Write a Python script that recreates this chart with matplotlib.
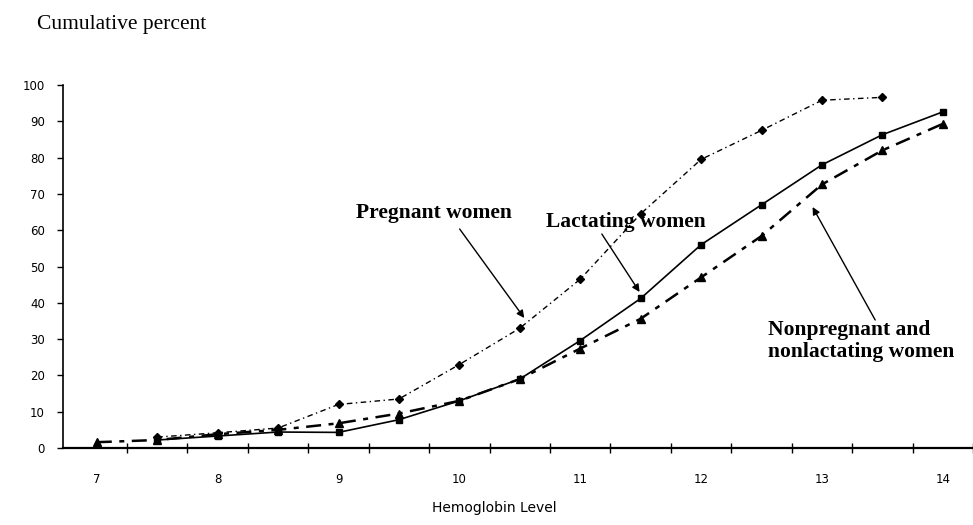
import matplotlib
matplotlib.use("Agg")
import matplotlib.pyplot as plt
import numpy as np

hb_levels = [7.0, 7.5, 8.0, 8.5, 9.0, 9.5, 10.0, 10.5, 11.0, 11.5, 12.0, 12.5, 13.0, 13.5, 14.0]
pregnant = [np.nan, 3.0, 4.2, 5.5, 12.0, 13.5, 23.0, 33.0, 46.5, 64.5, 79.5, 87.5, 95.8, 96.6, np.nan]
lactating = [np.nan, 2.2, 3.3, 4.4, 4.3, 7.8, 13.0, 19.0, 29.6, 41.2, 56.0, 67.0, 78.0, 86.3, 92.6]
nonpreg = [1.6, 2.2, 3.8, 5.0, 6.8, 9.5, 13.0, 19.0, 27.4, 35.6, 47.0, 58.4, 72.6, 82.0, 89.3]
x_tick_labels = ["7", "8", "9", "10", "11", "12", "13", "14"]
y_ticks = [0, 10, 20, 30, 40, 50, 60, 70, 80, 90, 100]

W, H = 973, 525
XS = 121.57          # px per hemoglobin unit
X0 = 7 - 34 / XS     # data value at the y-axis
X1 = 14 + 25 / XS    # data value at the right edge

fig = plt.figure(figsize=(W / 100, H / 100), dpi=100)
ax = fig.add_axes([63 / W, 77 / H, 910 / W, 363 / H])

ax.plot(hb_levels, pregnant, color="black", lw=1.0, linestyle=(0, (4, 2.5, 1, 2.5)),
        marker="D", markersize=4.5, label="Pregnant women")
ax.plot(hb_levels, lactating, color="black", lw=1.2, linestyle="-",
        marker="s", markersize=5, label="Lactating women")
ax.plot(hb_levels, nonpreg, color="black", lw=1.8, linestyle=(0, (6, 3, 2, 3)),
        marker="^", markersize=6, label="Nonpregnant and nonlactating women")

ax.set_xlim(X0, X1)
ax.set_ylim(0, 100)
for s in ["top", "right"]:
    ax.spines[s].set_visible(False)
ax.spines["left"].set_linewidth(1.2)
ax.spines["bottom"].set_linewidth(1.6)

ax.set_yticks(y_ticks)
ax.set_yticklabels([str(v) for v in y_ticks], fontsize=8.5, family="DejaVu Sans")
ax.tick_params(axis="y", direction="out", length=4, width=1, pad=9)

ax.set_xticks([float(v) for v in x_tick_labels])
ax.set_xticklabels(x_tick_labels, fontsize=8.5, family="DejaVu Sans")
ax.set_xticks(np.arange(7.25, 14.3, 0.5), minor=True)
ax.tick_params(axis="x", which="major", length=0, pad=18)
ax.tick_params(axis="x", which="minor", direction="inout", length=7, width=1)


def px2d(px, py):
    return (7 + (px - 97) / XS, (448 - py) / 3.63)


serif = "Liberation Serif"
arrow_kw = dict(arrowstyle="-|>", color="black", lw=1.0, mutation_scale=11, shrinkA=0, shrinkB=0)

ax.text(*px2d(436, 213), "Pregnant women", ha="center", va="center",
        fontsize=15.5, fontweight="bold", family=serif)
ax.annotate("", xy=px2d(527, 318), xytext=px2d(462, 229), arrowprops=arrow_kw)

ax.text(*px2d(629, 222), "Lactating women", ha="center", va="center",
        fontsize=15.5, fontweight="bold", family=serif)
ax.annotate("", xy=px2d(643, 292), xytext=px2d(605, 234), arrowprops=arrow_kw)

ax.text(*px2d(772, 341), "Nonpregnant and\nnonlactating women", ha="left", va="center",
        fontsize=15.5, fontweight="bold", family=serif, linespacing=1.15)
ax.annotate("", xy=px2d(817, 207), xytext=px2d(880, 320), arrowprops=arrow_kw)

fig.text(37 / W, 1 - 25 / H, "Cumulative percent", ha="left", va="center",
         fontsize=15.5, family=serif)
fig.text(432 / W, 1 - 508 / H, "Hemoglobin Level", ha="left", va="center",
         fontsize=10, family="DejaVu Sans")

fig.savefig("out.png", dpi=100)
